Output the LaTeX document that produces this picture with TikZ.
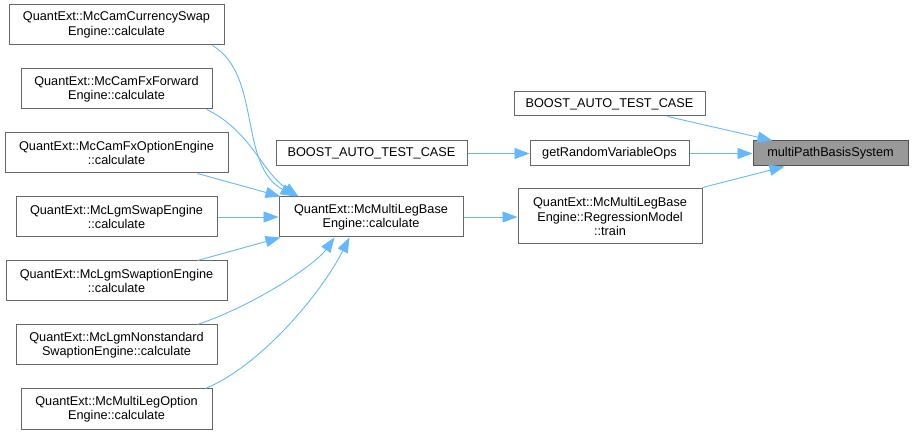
\documentclass[tikz,border=0pt]{standalone}
\usepackage{fontspec}
\setmainfont{Liberation Sans}
\usetikzlibrary{arrows.meta}
\definecolor{edgeblue}{HTML}{63B8FF}
\definecolor{boxgrey}{HTML}{666666}
\definecolor{hitgrey}{HTML}{999999}
\tikzset{
  fn/.style={draw=boxgrey, fill=white, line width=1pt, align=center, inner sep=0pt,
    font=\fontsize{12.7}{14.5}\selectfont},
  hit/.style={fn, fill=hitgrey, draw=boxgrey!80!black},
  call/.style={draw=edgeblue, line width=0.9pt, -{Triangle[length=15pt,width=11pt]}}
}
\begin{document}
\begin{tikzpicture}[x=1pt, y=-1pt]
        \useasboundingbox (0,0) rectangle (913,435);
        % callers on the left
        \node[fn, minimum width=215, minimum height=40] (cur) at (116.5,25) {QuantExt::McCamCurrencySwap\\Engine::calculate};
        \node[fn, minimum width=191, minimum height=40] (fxf) at (116.5,89) {QuantExt::McCamFxForward\\Engine::calculate};
        \node[fn, minimum width=223, minimum height=40] (fxo) at (116.5,153) {QuantExt::McCamFxOptionEngine\\::calculate};
        \node[fn, minimum width=201, minimum height=40] (lsw) at (116.5,217) {QuantExt::McLgmSwapEngine\\::calculate};
        \node[fn, minimum width=221, minimum height=40] (lswn) at (116.5,281) {QuantExt::McLgmSwaptionEngine\\::calculate};
        \node[fn, minimum width=201, minimum height=40] (nstd) at (116.5,345) {QuantExt::McLgmNonstandard\\SwaptionEngine::calculate};
        \node[fn, minimum width=191, minimum height=40] (mlo) at (116.5,409) {QuantExt::McMultiLegOption\\Engine::calculate};
        % middle column
        \node[fn, minimum width=184, minimum height=40] (base) at (371,217) {QuantExt::McMultiLegBase\\Engine::calculate};
        \node[fn, minimum width=191, minimum height=25] (bmid) at (371.5,153.5) {BOOST\_AUTO\_TEST\_CASE};
        \node[fn, minimum width=191, minimum height=24] (btop) at (609.5,104) {BOOST\_AUTO\_TEST\_CASE};
        \node[fn, minimum width=159, minimum height=25] (grv) at (609.5,153.5) {getRandomVariableOps};
        \node[fn, minimum width=184, minimum height=55] (train) at (610,216.5) {QuantExt::McMultiLegBase\\Engine::RegressionModel\\::train};
        % the function itself
        \node[hit, minimum width=155, minimum height=25] (mpb) at (830.5,153.5) {multiPathBasisSystem};

        % edges into the base engine
        \draw[call] ([xshift=-12pt]cur.south east) .. controls (262,75) and (238,165) .. ([xshift=17pt]base.north west);
        \draw[call] ([xshift=-6pt]fxf.south east) .. controls (250,130) and (262,172) .. ([xshift=20pt]base.north west);
        \draw[call] ([xshift=-31pt]fxo.south east) -- ([xshift=2pt]base.north west);
        \draw[call] (lsw.east) -- (base.west);
        \draw[call] ([xshift=-30pt]lswn.north east) -- ([xshift=2pt]base.south west);
        \draw[call] ([xshift=-20pt]nstd.north east) .. controls (255,305) and (315,265) .. ([xshift=56pt]base.south west);
        \draw[call] ([xshift=-7pt]mlo.north east) .. controls (262,365) and (322,292) .. ([xshift=71pt]base.south west);
        % edges to the right
        \draw[call] (base.east) -- (base.east -| train.west);
        \draw[call] (bmid.east) -- (grv.west);
        \draw[call] ([xshift=-38pt]btop.south east) -- ([xshift=20pt]mpb.north west);
        \draw[call] (grv.east) -- (mpb.west);
        \draw[call] ([yshift=1pt]train.north east) -- ([xshift=32pt]mpb.south west);
\end{tikzpicture}
\end{document}
